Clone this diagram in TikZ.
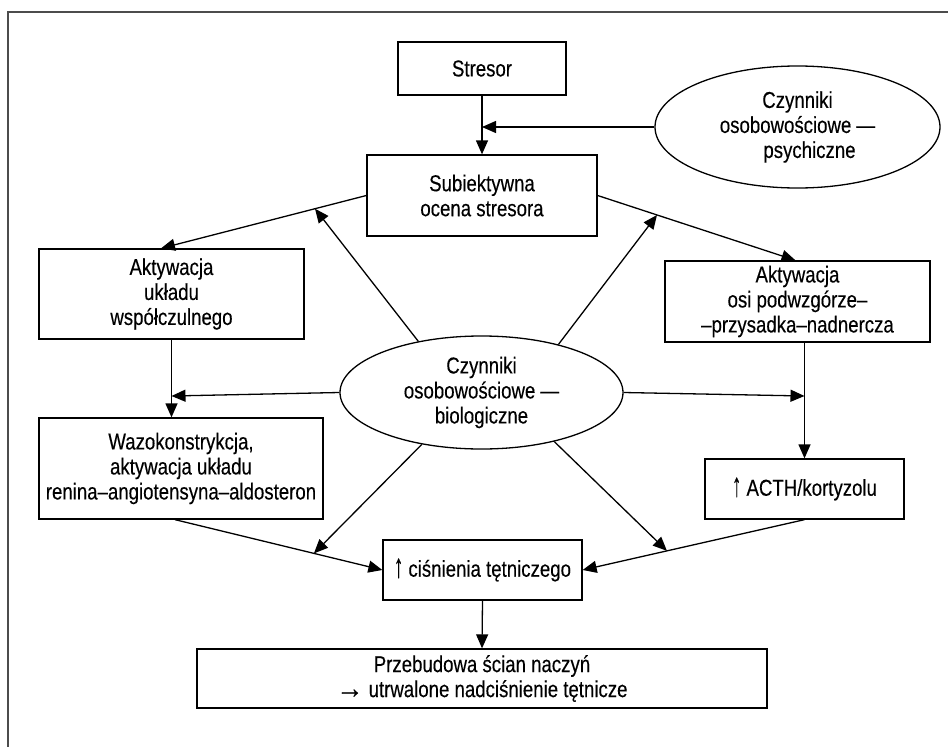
\documentclass[tikz,border=0pt]{standalone}
\usepackage{fontspec}
\usepackage{graphicx}
\setmainfont{Liberation Sans}[FakeStretch=0.81,FakeBold=0.3]
\newcommand{\uparr}{\raisebox{-0.5pt}{\scalebox{1}[1.45]{↑}}}
\newcommand{\rightarr}{\raisebox{-1pt}{\scalebox{1.45}[1.3]{→}}}
\usetikzlibrary{arrows.meta,shapes.geometric,calc}
\begin{document}
\begin{tikzpicture}[x=1pt,y=-1pt,
  every node/.style={font=\fontsize{23}{25}\selectfont, align=center, inner sep=0pt},
  box/.style={draw, rectangle, line width=1.3pt},
  oval/.style={draw, ellipse, line width=1.3pt},
  conn/.style={line width=1.3pt, -{Triangle[length=14pt,width=12pt]}},
  ]
\useasboundingbox (0,0) rectangle (948,747);
\draw[line width=1.6pt, black!70] (8,747) -- (8,12) -- (948,12);

\node[box, minimum width=168pt, minimum height=53pt] (stresor) at (482,68.5) {Stresor};
\node[box, minimum width=230pt, minimum height=81pt] (subj) at (482,195.5) {Subiektywna\\ocena stresora};
\node[oval, minimum width=285pt, minimum height=122pt] (psych) at (797.5,127) {Czynniki\\osobowościowe —\\\hspace*{24pt}psychiczne};
\node[box, minimum width=265pt, minimum height=90pt] (akt1) at (171.5,294) {Aktywacja\\układu\\współczulnego};
\node[box, minimum width=265pt, minimum height=81pt] (akt2) at (797.5,301.5) {Aktywacja\\osi podwzgórze–\\–przysadka–nadnercza};
\node[oval, minimum width=283pt, minimum height=113pt] (bio) at (481.5,392.5) {Czynniki\\osobowościowe —\\biologiczne};
\node[box, minimum width=284pt, minimum height=101pt] (waz) at (181,468.5) {Wazokonstrykcja,\\aktywacja układu\\renina–angiotensyna–aldosteron};
\node[box, minimum width=199pt, minimum height=60pt] (acth) at (804.5,489) {\uparr\ ACTH/kortyzolu};
\node[box, minimum width=199pt, minimum height=60pt] (cis) at (482.5,570) {\uparr\ ciśnienia tętniczego};
\node[box, minimum width=570pt, minimum height=59pt] (prz) at (482,678.5) {Przebudowa ścian naczyń\\\rightarr\ utrwalone nadciśnienie tętnicze};

% junction points
\coordinate (jtop) at (stresor.south |- psych.west);
\coordinate (a1) at ([xshift=-10.5pt]akt1.north);
\coordinate (a2) at ([xshift=-2pt]akt2.north);
\coordinate (jl) at (akt1.south |- 0,396);
\coordinate (jr) at (acth.north |- 0,396);
\coordinate (ws) at ([xshift=-6pt]waz.south);
\coordinate (tl) at ($(subj.west)!0.25!(a1)$);
\coordinate (tr) at ($(subj.east)!0.3!(a2)$);
\coordinate (bl) at ($(ws)!0.67!(cis.west)$);
\coordinate (br) at ($(acth.south)!0.62!(cis.east)$);

\draw[conn] (stresor.south) -- (subj.north);
\draw[conn] (psych.west) -- (jtop);
\draw[conn] (subj.west) -- (a1);
\draw[conn] (subj.east) -- (a2);
\draw[conn] (akt1.south) -- (akt1.south |- waz.north);
\draw[conn] (acth.north |- akt2.south) -- (acth.north);
\draw[conn] (ws) -- (cis.west);
\draw[conn] (acth.south) -- (cis.east);
\draw[conn] (cis.south) -- (prz.north);

\draw[conn] (bio.141) -- (tl);
\draw[conn] (bio.32) -- (tr);
\draw[conn] (bio.west) -- (jl);
\draw[conn] (bio.east) -- (jr);
\draw[conn] (bio.221) -- (bl);
\draw[conn] (bio.-34) -- (br);
\end{tikzpicture}
\end{document}
